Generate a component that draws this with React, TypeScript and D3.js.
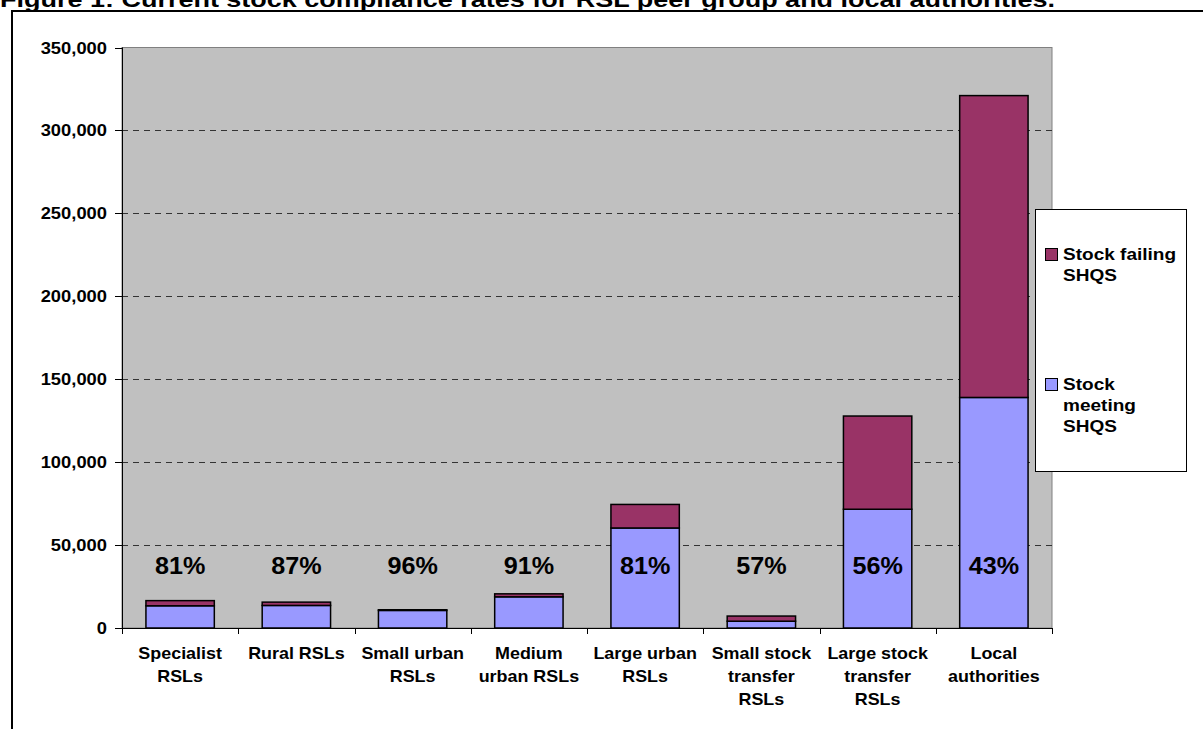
import React from "react";
import * as d3 from "d3";

const categories: string[][] = [
  ["Specialist", "RSLs"],
  ["Rural RSLs"],
  ["Small urban", "RSLs"],
  ["Medium", "urban RSLs"],
  ["Large urban", "RSLs"],
  ["Small stock", "transfer", "RSLs"],
  ["Large stock", "transfer", "RSLs"],
  ["Local", "authorities"],
];
const meeting = [13400, 13600, 10600, 18800, 60300, 4100, 71600, 139000];
const failing = [3100, 2000, 400, 1800, 14200, 3100, 56200, 182000];
const pctLabels = ["81%", "87%", "96%", "91%", "81%", "57%", "56%", "43%"];
const yTicks = [0, 50000, 100000, 150000, 200000, 250000, 300000, 350000];
const seriesNames = [["Stock failing", "SHQS"], ["Stock", "meeting", "SHQS"]];
const title = "Figure 1: Current stock compliance rates for RSL peer group and local authorities.";

const W = 1203, H = 729;
const plot = { left: 122, right: 1052, top: 47.5, bottom: 628 };
const FONT = "Arial, 'Liberation Sans', sans-serif";
const C_MEET = "#9999FF";
const C_FAIL = "#993366";

export default function App() {
  const x = d3.scaleBand<number>()
    .domain(d3.range(categories.length))
    .range([plot.left, plot.right])
    .paddingInner(0.7 / 1.7)
    .paddingOuter(0.35 / 1.7);
  const band = d3.scaleBand<number>().domain(d3.range(categories.length)).range([plot.left, plot.right]);
  const y = d3.scaleLinear().domain([0, 350000]).range([plot.bottom, plot.top]);
  const fmt = d3.format(",");
  const cx = (i: number) => band(i)! + band.bandwidth() / 2;

  return (
    <svg width={W} height={H} style={{ position: "absolute", left: 0, top: 0, background: "#fff" }} fontFamily={FONT}>
      <text x={0} y={7} fontSize={22} fontWeight="bold" fill="#000" textLength={1055} lengthAdjust="spacingAndGlyphs">{title}</text>
      <rect x={12} y={11} width={1300} height={900} fill="none" stroke="#000" strokeWidth={2} />
      {/* plot area */}
      <rect x={plot.left} y={plot.top} width={plot.right - plot.left} height={plot.bottom - plot.top} fill="#C0C0C0" stroke="#808080" strokeWidth={1} />
      {yTicks.filter(t => t > 0 && t < 350000).map(t => (
        <line key={t} x1={plot.left} x2={plot.right} y1={Math.round(y(t)) + 0.5} y2={Math.round(y(t)) + 0.5} stroke="#333" strokeWidth={1} strokeDasharray="6,5" />
      ))}
      {/* axes */}
      <line x1={plot.left + 0.5} x2={plot.left + 0.5} y1={plot.top} y2={plot.bottom} stroke="#000" />
      <line x1={plot.left} x2={plot.right} y1={plot.bottom + 0.5} y2={plot.bottom + 0.5} stroke="#000" />
      {yTicks.map(t => (
        <g key={t}>
          <line x1={plot.left - 7} x2={plot.left} y1={Math.round(y(t)) + 0.5} y2={Math.round(y(t)) + 0.5} stroke="#000" />
          <text transform={`translate(107,${y(t) + 6}) scale(1.08,1)`} textAnchor="end" fontSize={17} fontWeight="bold">{fmt(t)}</text>
        </g>
      ))}
      {d3.range(categories.length + 1).map(i => {
        const xx = Math.round(plot.left + i * band.step()) + 0.5;
        return <line key={i} x1={xx} x2={xx} y1={plot.bottom} y2={plot.bottom + 6} stroke="#000" />;
      })}
      {/* bars */}
      {meeting.map((m, i) => {
        const f = failing[i];
        const bx = x(i)!;
        const bw = x.bandwidth();
        return (
          <g key={i}>
            <rect x={bx} y={y(m)} width={bw} height={y(0) - y(m)} fill={C_MEET} stroke="#000" strokeWidth={1.5} />
            <rect x={bx} y={y(m + f)} width={bw} height={y(m) - y(m + f)} fill={C_FAIL} stroke="#000" strokeWidth={1.5} />
          </g>
        );
      })}
      {pctLabels.map((p, i) => (
        <text key={i} transform={`translate(${cx(i)},574) scale(1.05,1)`} textAnchor="middle" fontSize={24} fontWeight="bold">{p}</text>
      ))}
      {categories.map((lines, i) => (
        <g key={i} transform={`translate(${cx(i)},659) scale(1.12,1)`}>
          <text textAnchor="middle" fontSize={16} fontWeight="bold">
            {lines.map((l, j) => (
              <tspan key={j} x={0} dy={j === 0 ? 0 : 23}>{l}</tspan>
            ))}
          </text>
        </g>
      ))}
      {/* legend */}
      <rect x={1035.5} y={209.5} width={151} height={262} fill="#fff" stroke="#000" strokeWidth={1} />
      {[C_FAIL, C_MEET].map((c, k) => {
        const top = k === 0 ? 248 : 378;
        return (
          <g key={k}>
            <rect x={1045.5} y={top + 0.5} width={12} height={12} fill={c} stroke="#000" strokeWidth={1} />
            <g transform={`translate(1063,${top + 12}) scale(1.12,1)`}>
              <text fontSize={17} fontWeight="bold">
                {seriesNames[k].map((l, j) => (
                  <tspan key={j} x={0} dy={j === 0 ? 0 : 21}>{l}</tspan>
                ))}
              </text>
            </g>
          </g>
        );
      })}
    </svg>
  );
}
